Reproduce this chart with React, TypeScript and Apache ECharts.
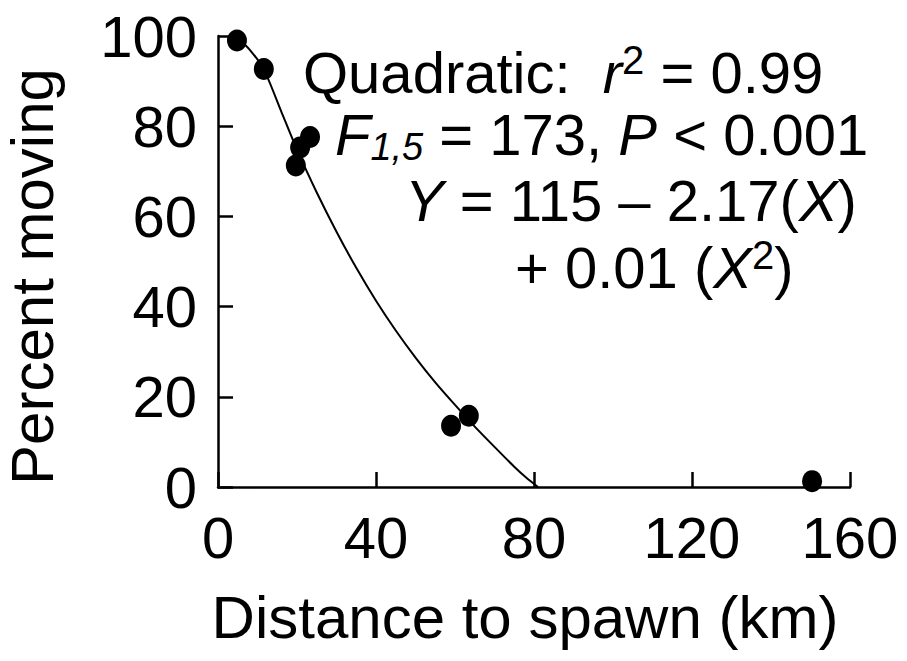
import React, { useEffect, useRef } from "react";
import * as echarts from "echarts";

// Observed data points (distance km, percent moving)
const pointX = [4.8, 11.6, 19.7, 20.8, 23.3, 59, 63.5, 150.4];
const pointY = [99, 92.7, 71.3, 75.3, 77.6, 13.6, 15.8, 1.3];

// Fitted curve
const curveX = [4.8, 8, 11.6, 16, 20, 25, 30, 35, 40, 45, 50, 55, 60, 65, 70, 75, 78, 81];
const curveY = [99.8, 97, 92.6, 83.3, 74.8, 65.3, 56.6, 48.6, 41.3, 34.7, 28.7, 23.2, 18.2, 13.4, 8.9, 4.5, 2.1, 0];

const xTicks = [0, 40, 80, 120, 160];
const yTicks = [0, 20, 40, 60, 80, 100];

const xTitle = "Distance to spawn (km)";
const yTitle = "Percent moving";

const FONT = '"Liberation Sans", Arial, Helvetica, sans-serif';

export default function App() {
  const ref = useRef<HTMLDivElement>(null);
  useEffect(() => {
    const chart = echarts.init(ref.current!, null, { renderer: "svg" });
    const rich = {
      n: { fontSize: 58, fontFamily: FONT, lineHeight: 64, color: "#000" },
      i: { fontSize: 58, fontFamily: FONT, fontStyle: "italic", lineHeight: 64, color: "#000" },
      sup: { fontSize: 40, fontFamily: FONT, lineHeight: 46, verticalAlign: "top", color: "#000" },
      sub: { fontSize: 38, fontFamily: FONT, fontStyle: "italic", lineHeight: 28, verticalAlign: "bottom", color: "#000" },
    };
    const txt = (left: number, top: number, text: string) => ({
      type: "text",
      left,
      top,
      style: { text, rich, fill: "#000", font: `58px ${FONT}` },
    });
    chart.setOption({
      animation: false,
      backgroundColor: "#ffffff",
      grid: { left: 218, right: 57, top: 36, bottom: 174, containLabel: false, outerBoundsMode: "none" },
      xAxis: {
        type: "value",
        min: xTicks[0],
        max: xTicks[xTicks.length - 1],
        interval: xTicks[1] - xTicks[0],
        name: xTitle,
        nameLocation: "middle",
        nameGap: 100,
        nameTextStyle: { fontSize: 60, color: "#000", fontFamily: FONT, padding: [0, 18, 0, 0] },
        splitLine: { show: false },
        axisLine: { show: true, lineStyle: { color: "#000", width: 2.5 } },
        axisTick: { show: true, inside: true, length: 15, lineStyle: { color: "#000", width: 2.5 } },
        axisLabel: { fontSize: 58, color: "#000", fontFamily: FONT, margin: 21 },
      },
      yAxis: {
        type: "value",
        min: yTicks[0],
        max: yTicks[yTicks.length - 1],
        interval: yTicks[1] - yTicks[0],
        name: yTitle,
        nameLocation: "middle",
        nameGap: 156,
        nameTextStyle: { fontSize: 60, color: "#000", fontFamily: FONT, padding: [0, 30, 0, 0] },
        splitLine: { show: false },
        axisLine: { show: true, lineStyle: { color: "#000", width: 2.5 } },
        axisTick: { show: true, inside: true, length: 15, lineStyle: { color: "#000", width: 2.5 } },
        axisLabel: { fontSize: 58, color: "#000", fontFamily: FONT, margin: 21 },
      },
      series: [
        {
          type: "line",
          data: curveX.map((x, i) => [x, curveY[i]]),
          smooth: 0.25,
          symbol: "none",
          lineStyle: { color: "#000", width: 2 },
          z: 2,
        },
        {
          type: "scatter",
          data: pointX.map((x, i) => [x, pointY[i]]),
          symbol: "circle",
          symbolSize: [20, 22],
          itemStyle: { color: "#000", opacity: 1 },
          z: 3,
        },
      ],
      graphic: [
        txt(303, 40, "{n|Quadratic:  }{i|r}{sup|2}{n| = 0.99}"),
        txt(335, 105, "{i|F}{sub|1,5}{n| = 173, }{i|P}{n| < 0.001}"),
        txt(405, 171, "{i|Y}{n| = 115 – 2.17(}{i|X}{n|)}"),
        txt(515, 235, "{n|+ 0.01 (}{i|X}{sup|2}{n|)}"),
      ],
    });
    return () => chart.dispose();
  }, []);
  return (
    <div
      ref={ref}
      style={{ position: "fixed", left: 0, top: 0, width: 907, height: 661, background: "#fff" }}
    />
  );
}
